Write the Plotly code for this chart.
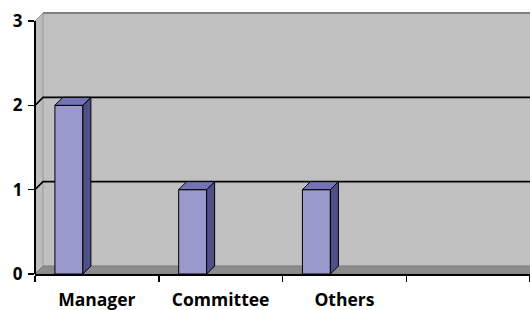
import plotly.graph_objects as go

categories = ["Manager", "Committee", "Others", " "]
values = [2, 1, 1, None]
y_ticks = [0, 1, 2, 3]

# geometry (styling only)
W, H = 530, 310
ML, MR, MT, MB = 35, 0, 4, 36
YMAX = max(y_ticks)
X_RANGE = [-0.5, 3.5]
px_x = (W - ML - MR) / (X_RANGE[1] - X_RANGE[0])
px_y = 253 / YMAX
Y_RANGE = [0, (H - MT - MB) / px_y]
DX = 8 / px_x
DY = 8 / px_y
BAR_W = 0.226
BAR_OFF = -0.339

FRONT = "#9999CC"
SIDE = "#505088"
TOP = "#7373BA"
WALL = "#C0C0C0"

fig = go.Figure()
fig.add_trace(go.Bar(
    x=categories, y=values, width=BAR_W, offset=BAR_OFF,
    marker=dict(color=FRONT, line=dict(color="black", width=1)),
    hoverinfo="skip",
))

shapes = []
x_left = X_RANGE[0]
x_right = X_RANGE[1] + 0.2
# back wall
shapes.append(dict(type="rect", xref="x", yref="y", x0=x_left + DX, x1=x_right,
                   y0=DY, y1=YMAX + DY, fillcolor=WALL, line=dict(width=0), layer="below"))
# side wall
shapes.append(dict(type="path", xref="x", yref="y",
                   path=f"M{x_left},0 L{x_left+DX},{DY} L{x_left+DX},{YMAX+DY} L{x_left},{YMAX} Z",
                   fillcolor="#BDBDBD", line=dict(color="#9A9A9A", width=1), layer="below"))
# floor
shapes.append(dict(type="path", xref="x", yref="y",
                   path=f"M{x_left},0 L{x_left+DX},{DY} L{x_right},{DY} L{x_right},0 Z",
                   fillcolor="#8C8C8C", line=dict(color="#7A7A7A", width=1), layer="below"))
# wall top edge
shapes.append(dict(type="line", xref="x", yref="y", x0=x_left + DX, x1=x_right,
                   y0=YMAX + DY, y1=YMAX + DY, line=dict(color="#808080", width=2), layer="below"))
# gridlines
for v in y_ticks[1:-1]:
    shapes.append(dict(type="path", xref="x", yref="y",
                       path=f"M{x_left},{v} L{x_left+DX},{v+DY} L{x_right},{v+DY}",
                       line=dict(color="black", width=1.6), layer="below"))
# 3D faces of bars
for i, v in enumerate(values):
    if v is None:
        continue
    xl = i + BAR_OFF
    xr = xl + BAR_W
    shapes.append(dict(type="path", xref="x", yref="y",
                       path=f"M{xr},0 L{xr+DX},{DY} L{xr+DX},{v+DY} L{xr},{v} Z",
                       fillcolor=SIDE, line=dict(color="black", width=1), layer="above"))
    shapes.append(dict(type="path", xref="x", yref="y",
                       path=f"M{xl},{v} L{xl+DX},{v+DY} L{xr+DX},{v+DY} L{xr},{v} Z",
                       fillcolor=TOP, line=dict(color="black", width=1), layer="above"))
# y axis line
shapes.append(dict(type="line", xref="paper", yref="y", x0=0, x1=0, y0=0, y1=YMAX,
                   line=dict(color="black", width=2), layer="above"))

fig.update_layout(
    width=W, height=H,
    margin=dict(l=ML, r=MR, t=MT, b=MB, autoexpand=False),
    paper_bgcolor="white", plot_bgcolor="white",
    showlegend=False, bargap=0,
    shapes=shapes,
    font=dict(family="Open Sans", size=16, color="black"),
    xaxis=dict(type="category", range=X_RANGE, showgrid=False, zeroline=False,
               automargin=False,
               showline=True, linecolor="black", linewidth=2,
               ticks="outside", ticklen=6, tickwidth=1.5, tickcolor="black",
               tickson="boundaries", ticklabelstandoff=9,
               tickfont=dict(family="Open Sans", size=17.5, color="black", weight="bold")),
    yaxis=dict(range=Y_RANGE, showgrid=False, zeroline=False, showline=False,
               automargin=False,
               tickvals=y_ticks, ticktext=[str(t) for t in y_ticks],
               ticks="outside", ticklen=6, tickwidth=1.5, tickcolor="black",
               ticklabelstandoff=2,
               tickfont=dict(family="Open Sans", size=17, color="black", weight="bold")),
)

fig.write_html(
    "out.html",
    config={"displayModeBar": False, "staticPlot": True},
    post_script="document.body.style.margin='0';document.documentElement.style.overflow='hidden';",
)
